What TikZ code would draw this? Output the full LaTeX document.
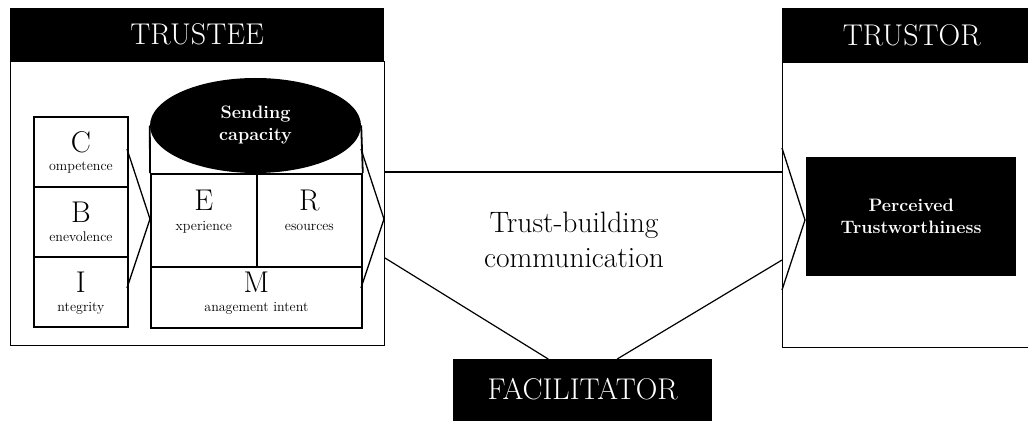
\documentclass[tikz,border=0pt]{standalone}
\usetikzlibrary{shapes.geometric}
\begin{document}
\begin{tikzpicture}[x=1pt,y=-1pt,
  blk/.style={fill=black,text=white,inner sep=0pt,font=\fontsize{30}{34}\selectfont},
  outer/.style={draw,line width=1pt,inner sep=0pt},
  inbox/.style={draw,line width=1.8pt,inner sep=0pt},
  big/.style={anchor=base,inner sep=0pt,font=\fontsize{30}{30}\selectfont},
  small/.style={anchor=base,inner sep=0pt,font=\fontsize{14}{15}\selectfont},
  chev/.style={line width=1.3pt},
  link/.style={line width=1.2pt},
  wbold/.style={text=white,font=\bfseries\fontsize{18}{22}\selectfont,align=center}
]
\useasboundingbox (0,0) rectangle (1028,425);

% TRUSTEE
\node[blk,anchor=north west,minimum width=374pt,minimum height=53pt] (teeh) at (10,8) {TRUSTEE};
\node[outer,anchor=north west,minimum width=374pt,minimum height=284pt] (tee) at (10,61) {};

% C B I boxes
\node[inbox,anchor=north west,minimum width=94pt,minimum height=70pt] (cbox) at (33,116) {};
\node[inbox,anchor=north west,minimum width=94pt,minimum height=70pt] (bbox) at (33,186) {};
\node[inbox,anchor=north west,minimum width=94pt,minimum height=70pt] (ibox) at (33,256) {};
\node[big] (cl) at ([yshift=-37pt]cbox.north) {C};
\node[small] (cw) at ([yshift=-55pt]cbox.north) {ompetence};
\node[big] (bl) at ([yshift=-36pt]bbox.north) {B};
\node[small] (bw) at ([yshift=-55pt]bbox.north) {enevolence};
\node[big] (il) at ([yshift=-36pt]ibox.north) {I};
\node[small] (iw) at ([yshift=-55pt]ibox.north) {ntegrity};

% Cylinder
\node[ellipse,fill=black,minimum width=211pt,minimum height=95pt,inner sep=0pt,wbold] (send) at (255.5,125.5) {Sending\\capacity};
\node[inbox,anchor=north west,minimum width=106pt,minimum height=93pt] (ebox) at (150,173) {};
\node[inbox,anchor=north west,minimum width=105pt,minimum height=93pt] (rbox) at (256,173) {};
\node[inbox,anchor=north west,minimum width=211pt,minimum height=61pt] (mbox) at (150,266) {};
\draw[line width=1.8pt] (send.west) -- (ebox.north west);
\draw[line width=1.8pt] (send.east) -- (rbox.north east);
\node[big] (el) at ([yshift=-37pt]ebox.north) {E};
\node[small] (ew) at ([yshift=-57pt]ebox.north) {xperience};
\node[big] (rl) at ([yshift=-37pt]rbox.north) {R};
\node[small] (rw) at ([yshift=-57pt]rbox.north) {esources};
\node[big] (ml) at ([yshift=-26pt]mbox.north) {M};
\node[small] (mw) at ([yshift=-45pt]mbox.north) {anagement intent};

% chevrons in trustee
\coordinate (c1a) at (127,149);
\coordinate (c1b) at (150,219);
\coordinate (c1c) at (127,288);
\draw[chev] (c1a) -- (c1b) -- (c1c);
\coordinate (c2a) at (361,149);
\coordinate (c2b) at (384,219);
\coordinate (c2c) at (361,288);
\draw[chev] (c2a) -- (c2b) -- (c2c);

% TRUSTOR
\node[blk,anchor=north west,minimum width=259pt,minimum height=54pt] (torh) at (782,8) {TRUSTOR};
\node[outer,anchor=north west,minimum width=259pt,minimum height=285pt] (tor) at (782,62) {};
\node[fill=black,anchor=north west,minimum width=210pt,minimum height=119pt,inner sep=0pt,wbold] (ptw) at (806,157) {Perceived\\Trustworthiness};
\coordinate (c3a) at (782,148);
\coordinate (c3b) at (805,220);
\coordinate (c3c) at (782,290);
\draw[chev] (c3a) -- (c3b) -- (c3c);

% FACILITATOR
\node[blk,anchor=north west,minimum width=259pt,minimum height=62pt,text depth=3pt] (fac) at (453,359) {FACILITATOR};

% links
\draw[link] ([yshift=-111pt]tee.north east) -- ([yshift=-110pt]tor.north west);
\draw[link] ([yshift=-197pt]tee.north east) -- ([xshift=-34.5pt]fac.north);
\draw[link] ([xshift=34.5pt]fac.north) -- ([yshift=-198pt]tor.north west);

\node[align=center,inner sep=0pt,font=\fontsize{29.5}{35}\selectfont] (tbc) at (574,240) {Trust-building\\communication};
\end{tikzpicture}
\end{document}
